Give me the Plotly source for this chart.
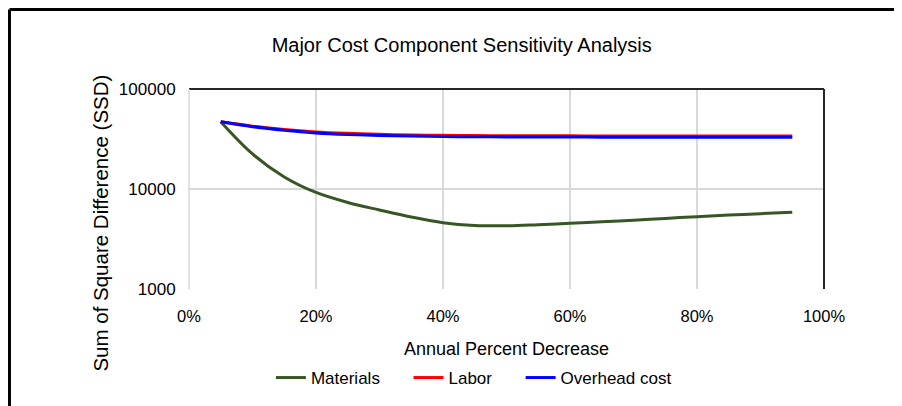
import plotly.graph_objects as go

x_pct = [0.05, 0.10, 0.15, 0.20, 0.25, 0.30, 0.35, 0.40, 0.45, 0.50,
         0.55, 0.60, 0.65, 0.70, 0.75, 0.80, 0.85, 0.90, 0.95]
materials = [47000, 22400, 13200, 9230, 7330, 6170, 5250, 4600, 4315, 4290,
             4400, 4540, 4700, 4880, 5080, 5290, 5480, 5670, 5850]
labor = [47000, 42500, 39300, 37200, 36000, 35200, 34700, 34400, 34200, 34100,
         34000, 34000, 33950, 33900, 33900, 33850, 33850, 33800, 33800]
overhead = [47000, 42000, 38700, 36400, 35100, 34300, 33800, 33500, 33300, 33200,
            33100, 33050, 33000, 33000, 32950, 32950, 32900, 32900, 32900]

y_ticks = [1000, 10000, 100000]
y_tick_text = ["1000", "10000", "100000"]
x_ticks = [0, 0.2, 0.4, 0.6, 0.8, 1.0]

FONT = "Liberation Sans"
PAD = "\u00a0" * 5

fig = go.Figure()
fig.add_trace(go.Scatter(x=x_pct, y=materials, name="Materials" + PAD, mode="lines",
                         line=dict(color="#375623", width=3, shape="spline")))
fig.add_trace(go.Scatter(x=x_pct, y=labor, name="Labor" + PAD, mode="lines",
                         line=dict(color="#FF0000", width=3, shape="spline")))
fig.add_trace(go.Scatter(x=x_pct, y=overhead, name="Overhead cost", mode="lines",
                         line=dict(color="#0000FF", width=3, shape="spline")))

fig.update_layout(
    width=902, height=406,
    margin=dict(l=181, r=86, t=81, b=125),
    paper_bgcolor="white", plot_bgcolor="white",
    font=dict(family=FONT, color="#000000", size=16),
    title=dict(text="Major Cost Component Sensitivity Analysis",
               x=0.503, xanchor="center", y=0.909, yanchor="middle",
               font=dict(family=FONT, size=20, color="#000000")),
    showlegend=True,
    legend=dict(orientation="h", x=0.129, xanchor="left", y=-0.445, yanchor="middle",
                font=dict(family=FONT, size=17), tracegroupgap=0),
    xaxis=dict(range=[0, 1], tickvals=x_ticks, tickformat=".0%",
               showgrid=True, gridcolor="#d9d9d9", gridwidth=1.5,
               zeroline=False, showline=False,
               ticks="outside", ticklen=12, tickcolor="rgba(0,0,0,0)",
               tickfont=dict(size=16.5),
               title=dict(text="Annual Percent Decrease", font=dict(size=18), standoff=18)),
    yaxis=dict(type="log", range=[3, 5], tickvals=y_ticks, ticktext=y_tick_text,
               showgrid=True, gridcolor="#d9d9d9", gridwidth=1.5,
               zeroline=False, showline=False,
               ticks="outside", ticklen=9, tickcolor="rgba(0,0,0,0)",
               tickfont=dict(size=17)),
    annotations=[
        dict(text="Sum of Square Difference (SSD)", textangle=-90,
             xref="paper", yref="paper", x=-0.140, y=0.3275,
             xanchor="center", yanchor="middle", showarrow=False,
             font=dict(family=FONT, size=20.5, color="#000000")),
    ],
    shapes=[
        dict(type="line", xref="paper", yref="paper", x0=0, x1=1, y0=1, y1=1,
             line=dict(color="#262626", width=2)),
        dict(type="line", xref="paper", yref="paper", x0=1, x1=1, y0=0, y1=1,
             line=dict(color="#262626", width=2)),
        dict(type="line", xref="paper", yref="paper", x0=0, x1=0, y0=0, y1=1,
             line=dict(color="#d9d9d9", width=1.5)),
        dict(type="line", xref="paper", yref="paper", x0=-0.2827, x1=1.3, y0=1.3975, y1=1.3975,
             line=dict(color="#000000", width=3)),
        dict(type="line", xref="paper", yref="paper", x0=-0.2827, x1=-0.2827, y0=-0.7, y1=1.3975,
             line=dict(color="#000000", width=3)),
    ],
)

fig.write_html("out.html")
